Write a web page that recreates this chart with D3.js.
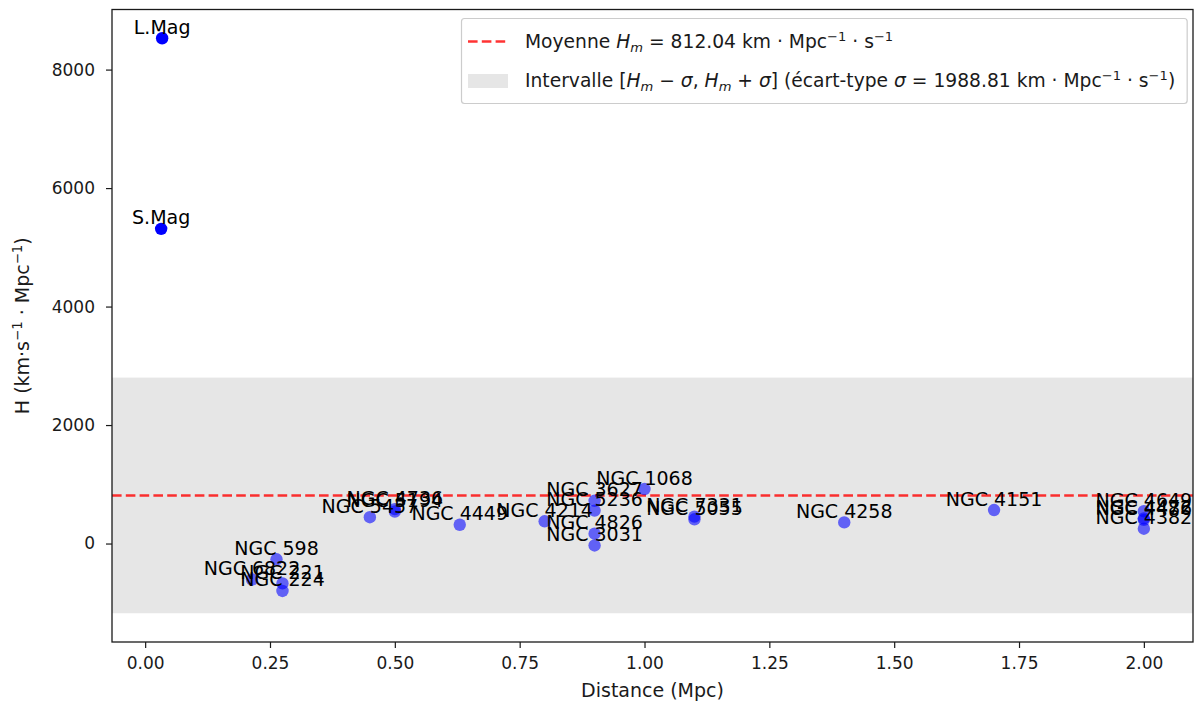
<!DOCTYPE html>
<html><head><meta charset="utf-8">
<script src="https://cdn.jsdelivr.net/npm/d3@7"></script>
<style>
body{margin:0;background:#fff}
svg{display:block}
text{font-family:"DejaVu Sans",sans-serif}
</style>
</head><body>
<svg id="c" width="1196" height="704"></svg>
<script>
// ---------- data ----------
const names = ["S.Mag","L.Mag","NGC 6822","NGC 598","NGC 221","NGC 224","NGC 5457","NGC 4736",
  "NGC 5194","NGC 4449","NGC 4214","NGC 3031","NGC 3627","NGC 4826","NGC 5236","NGC 1068",
  "NGC 5055","NGC 7331","NGC 4258","NGC 4151","NGC 4382","NGC 4472","NGC 4486","NGC 4649"];
const distances = [0.032,0.034,0.214,0.263,0.275,0.275,0.45,0.5,
  0.5,0.63,0.8,0.9,0.9,0.9,0.9,1.0,
  1.1,1.1,1.4,1.7,2.0,2.0,2.0,2.0];
const hValues = [5312,8529,-607,-266,-673,-800,444,580,
  540,317,375,-33,722,167,556,920,
  409,455,357,565,250,425,400,545];
const opaqueNames = ["S.Mag","L.Mag"];
const meanH = 812.04;
const sigmaH = 1988.81;
const xTicks = [0,0.25,0.5,0.75,1.0,1.25,1.5,1.75,2.0];
const yTicks = [0,2000,4000,6000,8000];

// ---------- layout ----------
const svg = d3.select("#c");
const M = {left:112, right:1193, top:9.5, bottom:642};
const FT = 17, FL = 19, FG = 18.7, FA = 19;
const ink = "#1a1a1a";

const xe = d3.extent(distances), xr = xe[1]-xe[0];
const x = d3.scaleLinear().domain([xe[0]-0.05*xr, xe[1]+0.05*xr]).range([M.left, M.right]);
const ylo = Math.min(d3.min(hValues), meanH-sigmaH), yhi = Math.max(d3.max(hValues), meanH+sigmaH);
const yr = yhi-ylo;
const y = d3.scaleLinear().domain([ylo-0.05*yr, yhi+0.05*yr]).range([M.bottom, M.top]);

const pts = names.map((n,i)=>({name:n, d:distances[i], h:hValues[i]}));

// band
svg.append("rect")
  .attr("x", M.left).attr("width", M.right-M.left)
  .attr("y", y(meanH+sigmaH)).attr("height", y(meanH-sigmaH)-y(meanH+sigmaH))
  .attr("fill","#e6e6e6");

// mean line
svg.append("line")
  .attr("x1", M.left).attr("x2", M.right)
  .attr("y1", y(meanH)).attr("y2", y(meanH))
  .attr("stroke","#ff0000").attr("stroke-opacity",0.8)
  .attr("stroke-width",2.6).attr("stroke-dasharray","9.6,4.2");

// points
svg.append("g").selectAll("circle").data(pts).join("circle")
  .attr("cx", d=>x(d.d)).attr("cy", d=>y(d.h)).attr("r",6.2)
  .attr("fill","#0000ff")
  .attr("fill-opacity", d=> opaqueNames.includes(d.name) ? 1 : 0.58);

// labels
svg.append("g").selectAll("text").data(pts).join("text")
  .attr("x", d=>x(d.d)).attr("y", d=>y(d.h)-4.5)
  .attr("text-anchor","middle").attr("font-size",FL).attr("fill","#000")
  .text(d=>d.name);

// axes frame
svg.append("rect").attr("x",M.left).attr("y",M.top)
  .attr("width",M.right-M.left).attr("height",M.bottom-M.top)
  .attr("fill","none").attr("stroke",ink).attr("stroke-width",1.3);

const xAxis = svg.append("g").attr("transform",`translate(0,${M.bottom})`)
  .call(d3.axisBottom(x).tickValues(xTicks).tickFormat(d3.format(".2f")).tickSize(6).tickPadding(9));
const yAxis = svg.append("g").attr("transform",`translate(${M.left},0)`)
  .call(d3.axisLeft(y).tickValues(yTicks).tickFormat(d3.format("d")).tickSize(6).tickPadding(11));
[xAxis,yAxis].forEach(a=>{
  a.select(".domain").remove();
  a.selectAll(".tick line").attr("stroke",ink).attr("stroke-width",1.2);
  a.selectAll(".tick text").attr("font-size",FT).attr("fill",ink).attr("font-family","DejaVu Sans");
});

// axis labels
svg.append("text").attr("x",(M.left+M.right)/2).attr("y",697)
  .attr("text-anchor","middle").attr("font-size",FA).attr("fill",ink).text("Distance (Mpc)");

function rich(sel, segs, fs){
  let off = 0;
  segs.forEach(s=>{
    const t = sel.append("tspan").text(s.t);
    let target = 0, size = fs;
    if (s.s==="sub"){ target = fs*0.22; size = fs*0.7; }
    if (s.s==="sup"){ target = -fs*0.38; size = fs*0.7; }
    t.attr("dy", target-off).attr("font-size", size);
    if (s.i) t.attr("font-style","italic");
    off = target;
  });
  if (off!==0) sel.append("tspan").attr("dy",-off).text("");
}

const ylab = svg.append("text")
  .attr("transform",`translate(29,${(M.top+M.bottom)/2}) rotate(-90)`)
  .attr("text-anchor","middle").attr("font-size",FA).attr("fill",ink);
rich(ylab,[{t:"H (km·s"},{t:"−1",s:"sup"},{t:" · Mpc"},{t:"−1",s:"sup"},{t:")"}],FA);

// legend
const leg = svg.append("g");
const LX = 461.5, LY = 18.5;
const box = leg.append("rect").attr("x",LX).attr("y",LY).attr("height",85).attr("rx",3)
  .attr("fill","#fff").attr("fill-opacity",0.8).attr("stroke","#cccccc").attr("stroke-width",1.2);
leg.append("line").attr("x1",468).attr("x2",508).attr("y1",41.5).attr("y2",41.5)
  .attr("stroke","#ff0000").attr("stroke-opacity",0.8).attr("stroke-width",2.6).attr("stroke-dasharray","9.6,4.2");
leg.append("rect").attr("x",468).attr("y",74).attr("width",40).attr("height",14).attr("fill","#e6e6e6");
const t1 = leg.append("text").attr("x",525).attr("y",48).attr("font-size",FG).attr("fill",ink);
rich(t1,[{t:"Moyenne "},{t:"H",i:1},{t:"m",i:1,s:"sub"},{t:" = "+meanH.toFixed(2)+" km · Mpc"},{t:"−1",s:"sup"},{t:" · s"},{t:"−1",s:"sup"}],FG);
const t2 = leg.append("text").attr("x",525).attr("y",87).attr("font-size",FG).attr("fill",ink);
rich(t2,[{t:"Intervalle ["},{t:"H",i:1},{t:"m",i:1,s:"sub"},{t:" − "},{t:"σ",i:1},{t:", "},{t:"H",i:1},{t:"m",i:1,s:"sub"},{t:" + "},{t:"σ",i:1},
  {t:"] (écart-type "},{t:"σ",i:1},{t:" = "+sigmaH.toFixed(2)+" km · Mpc"},{t:"−1",s:"sup"},{t:" · s"},{t:"−1",s:"sup"},{t:")"}],FG);
const w2 = Math.max(t1.node().getBBox().width, t2.node().getBBox().width);
box.attr("width", 525 + w2 + 12 - LX);
</script>
</body></html>
